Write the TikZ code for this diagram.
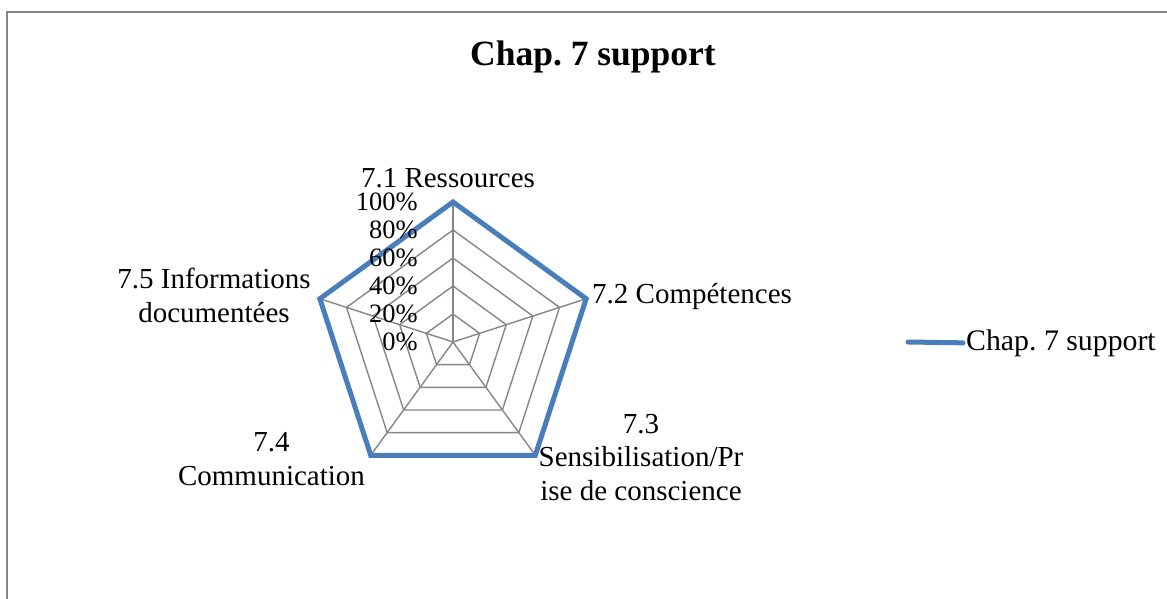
\documentclass[tikz,border=0pt]{standalone}
\usepackage{fontspec}
\setmainfont{Liberation Serif}
\usepackage{tikz}
\frenchspacing
\definecolor{serieblue}{RGB}{74,126,187}
\definecolor{gridgray}{RGB}{134,134,134}
\def\lblfont{\fontsize{29}{33.5}\selectfont}
\tikzset{
  grid/.style={color=gridgray, line width=1.4},
  serie/.style={color=serieblue, line width=5},
  axlbl/.style={inner sep=0pt, align=center, font=\lblfont},
  pct/.style={inner sep=0pt, font=\fontsize{26.5}{30}\selectfont, anchor=base east}
}

\begin{document}
\begin{tikzpicture}[x=1pt, y=-1pt]
        \useasboundingbox (0,0) rectangle (1167,599);
        \draw[gridgray, line width=1.5] (1167,12) -- (7,12) -- (7,599);
        \node[inner sep=0pt, anchor=base, font=\fontsize{35.5}{40}\selectfont\bfseries] (title) at (593,66) {Chap. 7 support};
        \coordinate (o) at (453,342);
        \begin{scope}[shift={(o)}]
        \foreach \r in {1,...,5}{
        \draw[grid] (-90:28*\r) -- (-18:28*\r) -- (54:28*\r) -- (126:28*\r) -- (198:28*\r) -- cycle;
        }
        \coordinate (a1) at (-90:140);
        \coordinate (a2) at (-18:140);
        \coordinate (a3) at (54:140);
        \coordinate (a4) at (126:140);
        \coordinate (a5) at (198:140);
        \end{scope}
        \foreach \x in {1,...,5}{
        \draw[grid] (o) -- (a\x);
        }
        \draw[serie] (a1) -- (a2) -- (a3) -- (a4) -- (a5) -- cycle;
        \foreach \p in {0,...,5}{
        \pgfmathtruncatemacro\v{20*\p}
        \node[pct] (p\p) at (418,350-28*\p) {\v\%};
        }
        \node[axlbl, anchor=base] (l1) at (448,187) {7.1 Ressources};
        \node[axlbl, anchor=base west] (l2) at (592,303) {7.2 Compétences};
        \node[axlbl, anchor=base] (l3) at (641,500) {7.3\\Sensibilisation/Pr\\ise de conscience};
        \node[axlbl, anchor=base] (l4) at (271.5,485) {7.4\\Communication};
        \node[axlbl, anchor=base] (l5) at (214,322) {7.5 Informations\\documentées};
        % legend
        \node[inner sep=3pt, anchor=base west, font=\fontsize{29.8}{35}\selectfont] (leg) at (963,350) {Chap. 7 support};
        \coordinate (k0) at (908,342);
        \draw[serie, line cap=round] (k0) -- (leg.west);
      \end{tikzpicture}
\end{document}
